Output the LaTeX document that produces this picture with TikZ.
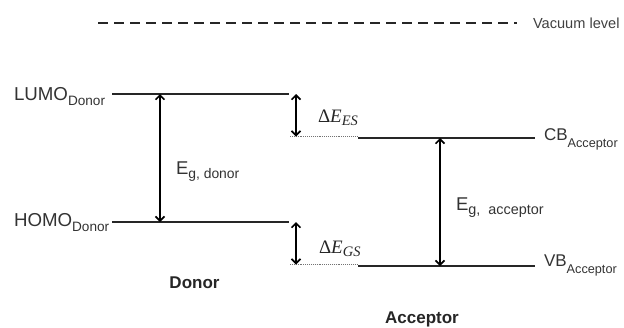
\documentclass[tikz,border=0pt]{standalone}
\usepackage{fontspec}
\setmainfont{Liberation Sans}
\newfontfamily\serifmath{Liberation Serif}
\usetikzlibrary{arrows.meta}
\newcommand{\fsz}[1]{\fontsize{#1}{#1}\selectfont}
\newcommand{\dlab}[1]{{\serifmath\fsz{19}Δ\textit{E}\raisebox{-3.5pt}{\fsz{14.5}\textit{#1}}}}
\tikzset{
  level/.style={line width=1.5pt, draw=black!85},
  shiftline/.style={line width=0.9pt, draw=black!55, densely dotted},
  gaparrow/.style={line width=1.6pt, {Straight Barb[length=4.5pt,width=9pt]}-{Straight Barb[length=4.5pt,width=9pt]}},
  lbl/.style={inner sep=0pt, outer sep=0pt, anchor=base west, text=black!80},
  ttl/.style={inner sep=0pt, outer sep=0pt, anchor=base, text=black!85, font=\bfseries\fsz{17}},
}
\begin{document}
\begin{tikzpicture}[x=1pt,y=-1pt]
\useasboundingbox (0,0) rectangle (624,327);
% vacuum level
\coordinate (v1) at (98,23);
\coordinate (v2) at (517,23);
\draw[line width=1.9pt, black!85, dash pattern=on 10pt off 6pt] (v1) -- (v2);
\node[lbl, text=black!75] (vac) at (533,28.5) {\fsz{14.6}Vacuum level};
% donor levels
\coordinate (lumoL) at (112,94);
\coordinate (lumoR) at (289,94);
\coordinate (homoL) at (112,222);
\coordinate (homoR) at (289,222);
\draw[level] (lumoL) -- (lumoR);
\draw[level] (homoL) -- (homoR);
\node[lbl] (lumo) at (14,100) {\fsz{18.7}LUMO\raisebox{-5pt}{\fsz{13.6}Donor}};
\node[lbl] (homo) at (14,226) {\fsz{18.7}HOMO\raisebox{-5pt}{\fsz{13.6}Donor}};
% acceptor levels
\coordinate (es1) at (290,136.5);
\coordinate (es2) at (358,136.5);
\coordinate (cbL) at (358,138);
\coordinate (cbR) at (535,138);
\coordinate (gs1) at (290,264.5);
\coordinate (gs2) at (358,264.5);
\coordinate (vbL) at (358,266);
\coordinate (vbR) at (535,266);
\draw[shiftline] (es1) -- (es2);
\draw[shiftline] (gs1) -- (gs2);
\draw[level] (cbL) -- (cbR);
\draw[level] (vbL) -- (vbR);
\node[lbl] (cb) at (544,140.7) {\fsz{17}CB\raisebox{-6.5pt}{\fsz{12.7}Acceptor}};
\node[lbl] (vb) at (544,266.7) {\fsz{17}VB\raisebox{-7pt}{\fsz{12.7}Acceptor}};
% gap arrows
\coordinate (dT) at (160,94);
\coordinate (dB) at (160,222);
\draw[gaparrow] (dT) -- (dB);
\node[lbl] (egd) at (176,174) {\fsz{18.5}E\raisebox{-4.5pt}{\fsz{13.9}g, donor}};
\coordinate (aT) at (440,138);
\coordinate (aB) at (440,266);
\draw[gaparrow] (aT) -- (aB);
\node[lbl] (ega) at (456,210) {\fsz{18.5}E\raisebox{-4.5pt}{\fsz{14.4}g,\ \ acceptor}};
% offsets
\coordinate (esT) at (296,94);
\coordinate (esB) at (296,136.5);
\draw[gaparrow] (esT) -- (esB);
\node[lbl, text=black!85] (des) at (318,122) {\dlab{ES}};
\coordinate (gsT) at (296,222);
\coordinate (gsB) at (296,264.5);
\draw[gaparrow] (gsT) -- (gsB);
\node[lbl, text=black!85] (dgs) at (319,253.3) {\dlab{GS}};
% titles
\node[ttl] (donor) at (194.5,288) {Donor};
\node[ttl] (acceptor) at (422,323) {Acceptor};
\end{tikzpicture}
\end{document}
